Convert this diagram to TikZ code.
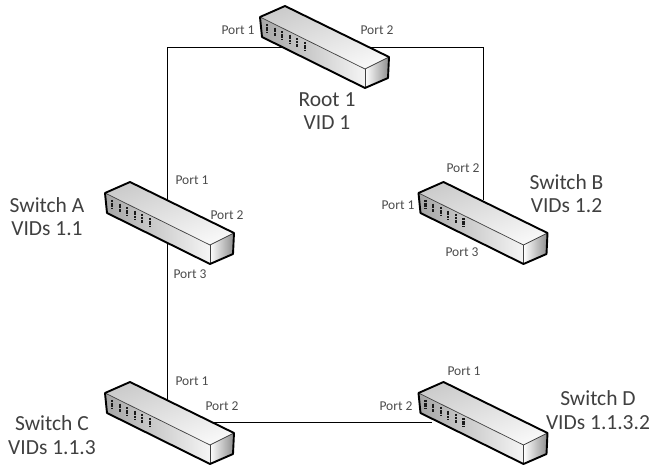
\documentclass[tikz,border=0pt]{standalone}
\usepackage{fontspec}
\setmainfont{Carlito}
\tikzset{
  big/.style={font=\fontsize{21.5}{23.5}\selectfont,text=black!75,align=center,inner sep=0pt},
  portl/.style={font=\fontsize{13.5}{15}\selectfont,text=black!70,inner sep=0pt},
  wire/.style={draw=black,line width=0.9pt},
  edge/.style={draw=black,line width=1.9pt,line join=round},
  thin edge/.style={draw=black!75,line width=0.7pt},
}
\newcommand{\switchbox}[3]{%
  \begin{scope}[shift={(#2,#3)}]
    \coordinate (#1) at (0,0);
    \shade[left color=black!20,right color=black!3,shading angle=20] (0,0) -- (25,-11) -- (129,40) -- (105,52) -- cycle;
    \shade[left color=black!35,right color=black!4] (0,0) -- (105,52) -- (105,71) -- (2,20) -- cycle;
    \shade[left color=white,right color=black!45] (105,52) -- (129,40) -- (128,61) -- (105,71) -- cycle;
    \draw[thin edge] (0,0) -- (105,52) -- (129,40);
    \draw[thin edge] (105,52) -- (105,71);
    \foreach \i in {0,...,5} {
      \draw[black!90,line width=2.1pt,dash pattern=on 2pt off 0.6pt] ({7+7.6*\i},{7+3.6*\i}) -- ++(0,8.5);
    }
    \draw[edge] (0,0) -- (25,-11) -- (129,40) -- (128,61) -- (105,71) -- (2,20) -- cycle;
  \end{scope}%
}
\begin{document}
\begin{tikzpicture}[x=1pt,y=-1pt]
\useasboundingbox (0,0) rectangle (649,465);
\coordinate (tl) at (167.5,47);
\coordinate (tr) at (483,47);
\coordinate (roota) at (283,47);
\coordinate (rootb) at (355,47);
\coordinate (swb) at (483,200);
\coordinate (swc) at (167.5,405);
\coordinate (swcr) at (212,422);
\coordinate (swd) at (432,422);
\draw[wire] (roota) -- (tl) -- (swc);
\draw[wire] (rootb) -- (tr) -- (swb);
\draw[wire] (swcr) -- (swd);
\switchbox{root}{260}{17}
\switchbox{swA}{105}{193}
\switchbox{swB}{418.5}{193}
\switchbox{swC}{105}{393}
\switchbox{swD}{418.5}{393}
\node[big] (lroot) at (327,111) {Root 1\\VID 1};
\node[big] (la) at (47,216.5) {Switch A\\VIDs 1.1};
\node[big] (lb) at (566.5,193.5) {Switch B\\VIDs 1.2};
\node[big] (lc) at (52,435) {Switch C\\VIDs 1.1.3};
\node[big] (ld) at (598,410) {Switch D\\VIDs 1.1.3.2};
\node[portl] (p1) at (238,30) {Port 1};
\node[portl] (p2) at (377,30) {Port 2};
\node[portl] (p3) at (192,180) {Port 1};
\node[portl] (p4) at (227,215) {Port 2};
\node[portl] (p5) at (190,274) {Port 3};
\node[portl] (p6) at (463,168) {Port 2};
\node[portl] (p7) at (398,205) {Port 1};
\node[portl] (p8) at (462,252) {Port 3};
\node[portl] (p9) at (192,381) {Port 1};
\node[portl] (p10) at (222,406) {Port 2};
\node[portl] (p11) at (464,371) {Port 1};
\node[portl] (p12) at (396,406) {Port 2};
\end{tikzpicture}
\end{document}
